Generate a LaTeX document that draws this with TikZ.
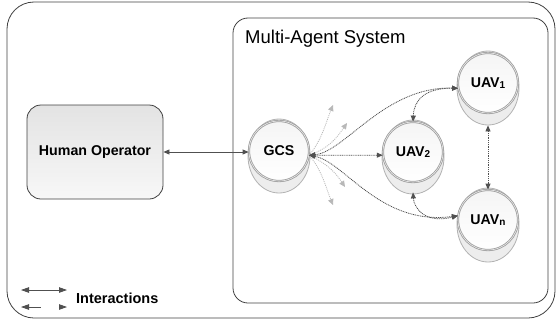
\documentclass[tikz,border=0pt]{standalone}
\usepackage{fontspec}
\setmainfont{Liberation Sans}
\usetikzlibrary{arrows.meta,shapes.geometric}
\definecolor{lc}{HTML}{505050}
\definecolor{fanc}{HTML}{B8B8B8}
\tikzset{
  tip/.style={{Triangle[length=6pt,width=5pt]}-{Triangle[length=6pt,width=5pt]}},
  bigtip/.style={{Triangle[length=8pt,width=5.5pt]}-{Triangle[length=8pt,width=5.5pt]}},
  fantip/.style={-{Triangle[length=6pt,width=5.5pt]}},
  solidlink/.style={draw=lc, line width=0.8pt, tip},
  dotlink/.style={draw=lc, line width=0.8pt, dash pattern=on 1pt off 0.8pt, tip},
  fanlink/.style={draw=fanc, line width=0.8pt, dash pattern=on 1pt off 1pt, fantip},
  container/.style={draw=black!75, line width=0.8pt},
  hobox/.style={draw=black!75, line width=0.8pt, rounded corners=14pt, minimum width=136pt,
    minimum height=94pt, top color=black!11, bottom color=black!3,
    font=\fontsize{14.2}{16}\selectfont\bfseries},
  agent/.style={circle, draw=black!38, line width=0.8pt, minimum size=60pt, inner sep=0pt,
    top color=black!4, bottom color=white, font=\fontsize{14.2}{16}\selectfont\bfseries,
    double=black!8, double distance=0.6pt},
  backdisc/.style={draw=black!30, line width=0.8pt, fill=black!7},
  lbl/.style={inner sep=0pt},
}
\newcommand{\subi}[1]{{\fontsize{10}{10}\selectfont\raisebox{-0.5pt}{#1}}}
\begin{document}
\begin{tikzpicture}[x=1pt,y=-1pt]
\useasboundingbox (0,0) rectangle (559,324);
% containers
\draw[container, rounded corners=27pt] (7,2) rectangle (555,318);
\draw[container, rounded corners=15pt] (233,18) rectangle (548,303);
\node[lbl, anchor=base west, font=\fontsize{18.5}{20}\selectfont] (mas) at (245,43) {Multi-Agent System};
% back discs
\foreach \cx/\cy in {279/151, 413/152, 488/83, 488/220}
  \path[backdisc] (\cx,\cy+5) ellipse [x radius=31pt, y radius=37pt];
% nodes
\node[hobox] (ho) at (95,152) {Human Operator};
\node[agent] (gcs) at (279,151) {GCS};
\node[agent] (uav2) at (413,152) {UAV\subi{2}};
\node[agent] (uav1) at (488,83) {UAV\subi{1}};
\node[agent] (uavn) at (488,220) {UAV\subi{n}};
% fan coordinates
\coordinate (f1) at (333,105);
\coordinate (f2) at (347,123);
\coordinate (f3) at (345,187);
\coordinate (f4) at (333,205);
% fan links
\draw[fanlink] (gcs.-8) .. controls (322,140) and (326,122) .. (f1);
\draw[fanlink] (gcs.-8) .. controls (330,148) and (338,136) .. (f2);
\draw[fanlink] (gcs.-8) .. controls (330,165) and (337,175) .. (f3);
\draw[fanlink] (gcs.-8) .. controls (322,170) and (326,188) .. (f4);
% links
\draw[solidlink] (ho.east) -- (ho.east -| gcs.west);
\draw[dotlink] (gcs.-8) -- (uav2.-174);
\draw[dotlink] (gcs.-8) .. controls (345,152) and (385,86) .. (uav1.190);
\draw[dotlink] (gcs.-8) .. controls (345,162) and (380,226) .. (uavn.172);
\draw[dotlink] (uav2.north) .. controls (414,100) and (425,88) .. (uav1.190);
\draw[dotlink] ([yshift=-10pt]uav2.south) .. controls (414,208) and (425,224) .. (uavn.172);
\draw[dotlink] ([yshift=-12pt]uav1.south) -- (uavn.north);
% legend
\coordinate (la) at (21,290);
\coordinate (lb) at (67,290);
\coordinate (lc1) at (21,307);
\coordinate (ld) at (67,307);
\draw[solidlink, bigtip] (la) -- (lb);
\draw[solidlink, bigtip, dash pattern=on 12pt off 18pt] (lc1) -- (ld);
\node[lbl, anchor=west, font=\fontsize{14.5}{16}\selectfont\bfseries] (leg) at (76,298) {Interactions};
\end{tikzpicture}
\end{document}
